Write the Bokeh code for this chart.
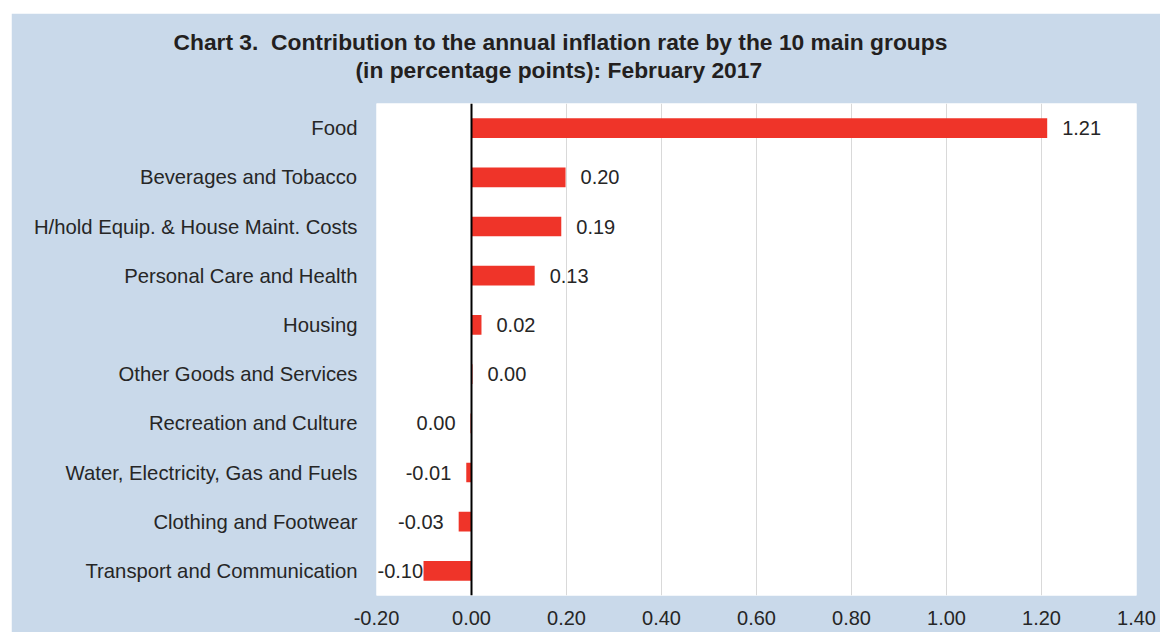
from bokeh.plotting import figure
from bokeh.models import (ColumnDataSource, FixedTicker, NumeralTickFormatter, Span,
                          LabelSet, Range1d, Title)
from bokeh.core.properties import value
from bokeh.embed import file_html
from bokeh.resources import INLINE

# ---- data ----
categories = [
    "Food",
    "Beverages and Tobacco",
    "H/hold Equip. & House Maint. Costs",
    "Personal Care and Health",
    "Housing",
    "Other Goods and Services",
    "Recreation and Culture",
    "Water, Electricity, Gas and Fuels",
    "Clothing and Footwear",
    "Transport and Communication",
]
values = [1.212, 0.198, 0.189, 0.133, 0.021, 0.002, -0.002, -0.011, -0.027, -0.101]
x_ticks = [-0.2, 0.0, 0.2, 0.4, 0.6, 0.8, 1.0, 1.2, 1.4]
title_lines = [
    "Chart 3.\u00a0 Contribution to the annual inflation rate by the 10 main groups",
    "(in percentage points): February 2017",
]

# ---- styling ----
FONT = "Liberation Sans"
FS = 20
BG = "#C9D9EA"
RED = "#EF3429"
TXT = "#262626"

n = len(categories)
ys = [n - 1 - i for i in range(n)]
xmin, xmax = x_ticks[0], x_ticks[-1]
frame_w = 760
ppu = frame_w / (xmax - xmin)  # pixels per data unit


def fmt(v):
    r = round(v, 2)
    if r == 0:
        r = 0.0
    return f"{r:.2f}"


def est_width(s):
    w = 0
    for ch in s:
        w += 0.333 if ch == "-" else (0.278 if ch == "." else 0.556)
    return w * FS / ppu


texts = [fmt(v) for v in values]
gap = 15 / ppu
pos_x, pos_y, pos_t = [], [], []
neg_x, neg_y, neg_t = [], [], []
for v, y, t in zip(values, ys, texts):
    if v > 0:
        pos_x.append(v + gap); pos_y.append(y); pos_t.append(t)
    else:
        anchor = v - gap
        w = est_width(t)
        if anchor - w < xmin:
            anchor = xmin + w + 1 / ppu
        neg_x.append(anchor); neg_y.append(y); neg_t.append(t)

src = ColumnDataSource(dict(y=ys, v=values))

p = figure(width=1149, height=619,
           x_range=Range1d(xmin, xmax), y_range=Range1d(-0.5, n - 0.5),
           output_backend="svg", toolbar_location=None,
           min_border_left=365, min_border_right=24,
           min_border_top=90, min_border_bottom=37,
           background_fill_color="white", border_fill_color=BG,
           outline_line_color=None)
p.margin = (13, 0, 0, 11)

p.hbar(y="y", left=0, right="v", height=0.4, source=src,
       fill_color=RED, line_color=None)

# axes
p.xaxis.ticker = FixedTicker(ticks=x_ticks)
p.xaxis.formatter = NumeralTickFormatter(format="0.00")
p.xaxis.axis_line_color = None
p.xaxis.major_tick_line_color = None
p.xaxis.minor_tick_line_color = None
p.xaxis.major_label_standoff = 9
p.xaxis.major_label_text_font = FONT
p.xaxis.major_label_text_font_size = f"{FS}px"
p.xaxis.major_label_text_color = TXT

p.yaxis.ticker = FixedTicker(ticks=ys)
p.yaxis.major_label_overrides = {y: c for y, c in zip(ys, categories)}
p.yaxis.axis_line_color = None
p.yaxis.major_tick_line_color = None
p.yaxis.minor_tick_line_color = None
p.yaxis.major_label_standoff = 13
p.yaxis.major_label_text_font = FONT
p.yaxis.major_label_text_font_size = "20.3px"
p.yaxis.major_label_text_color = TXT

p.xgrid.ticker = FixedTicker(ticks=x_ticks)
p.xgrid.grid_line_color = "#D9D9D9"
p.ygrid.grid_line_color = None

p.add_layout(Span(location=0, dimension="height", line_color="black", line_width=2))

# value labels
pos_src = ColumnDataSource(dict(x=pos_x, y=pos_y, t=pos_t))
neg_src = ColumnDataSource(dict(x=neg_x, y=neg_y, t=neg_t))
p.add_layout(LabelSet(x="x", y="y", text="t", source=pos_src, text_align="left",
                      text_baseline="middle", text_font=value(FONT),
                      text_font_size=value(f"{FS}px"), text_color=TXT))
p.add_layout(LabelSet(x="x", y="y", text="t", source=neg_src, text_align="right",
                      text_baseline="middle", text_font=value(FONT),
                      text_font_size=value(f"{FS}px"), text_color=TXT))

# title: spacer next to the plot, then the two lines (second line nearest the plot)
p.add_layout(Title(text=" ", standoff=18, text_font_size="1px"), "above")
offsets = [173 - 376, 355 - 376]
for line, off in reversed(list(zip(title_lines, offsets))):
    p.add_layout(Title(text=line, align="left", offset=off, standoff=0,
                       text_font=FONT, text_font_style="bold",
                       text_font_size="22.8px", text_color="#231F20"), "above")

open("out.html", "w").write(file_html(p, INLINE))
